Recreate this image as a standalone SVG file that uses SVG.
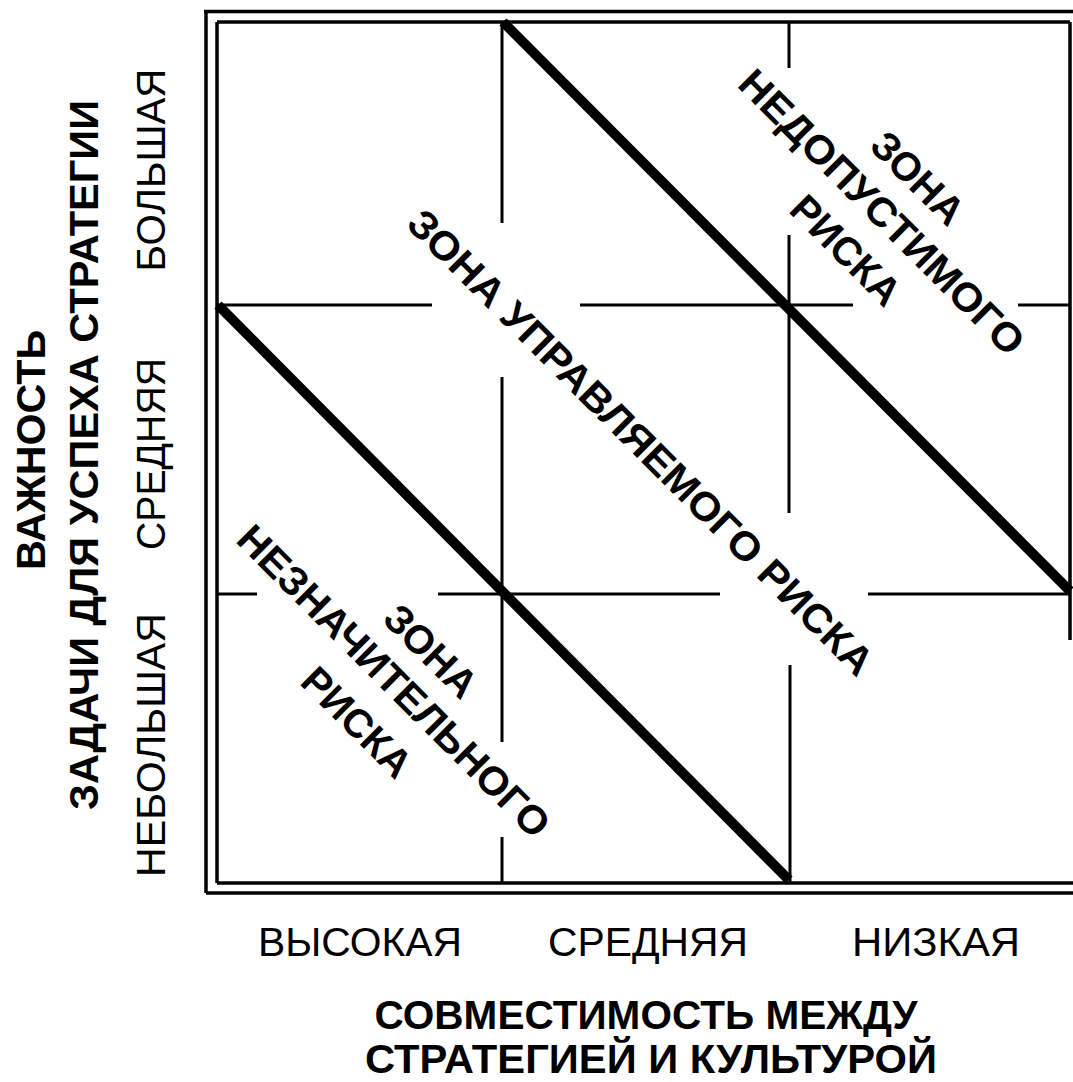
<svg xmlns="http://www.w3.org/2000/svg" width="1073" height="1082" viewBox="0 0 1073 1082">
<style>
.frame{stroke:#000;stroke-width:3.5;fill:none}
.grid{stroke:#000;stroke-width:3;fill:none}
.thick{stroke:#000;stroke-width:10;fill:none}
.lbl{font-family:"Liberation Sans",Arial,sans-serif;font-size:40px;fill:#000;text-anchor:middle}
.b{font-weight:bold}
</style>
<rect width="1073" height="1082" fill="#fff"/>
<g id="frame">
<path class="frame" d="M204,11.5 H1073 M206,11.5 V893 M206,893 H1073"/>
<path class="frame" d="M217,22 H1070 M217,22 V883 M217,883 H1073 M1070,22 V640"/>
</g>
<g id="grid">
<path class="grid" d="M502,22 V223 M502,377 V742 M502,837 V883"/>
<path class="grid" d="M789,22 V68 M789,235 V513 M790,665 V883"/>
<path class="grid" d="M217,305 H432 M580,305 H853 M1018,305 H1070"/>
<path class="grid" d="M217,594 H257 M438,594 H720 M868,594 H1070"/>
</g>
<g id="connectors">
<line class="thick" x1="503" y1="22" x2="1070" y2="591"/>
<line class="thick" x1="218" y1="305" x2="789" y2="880"/>
</g>
<g id="y-axis">
<text class="lbl b" transform="translate(45,450) rotate(-90)" textLength="240" lengthAdjust="spacingAndGlyphs">ВАЖНОСТЬ</text>
<text class="lbl b" transform="translate(98,455) rotate(-90)" textLength="710" lengthAdjust="spacingAndGlyphs">ЗАДАЧИ ДЛЯ УСПЕХА СТРАТЕГИИ</text>
<text class="lbl" transform="translate(165,170) rotate(-90)" textLength="203" lengthAdjust="spacingAndGlyphs">БОЛЬШАЯ</text>
<text class="lbl" transform="translate(165,454) rotate(-90)" textLength="192" lengthAdjust="spacingAndGlyphs">СРЕДНЯЯ</text>
<text class="lbl" transform="translate(165,745) rotate(-90)" textLength="264" lengthAdjust="spacingAndGlyphs">НЕБОЛЬШАЯ</text>
</g>
<g id="x-axis">
<text class="lbl" x="360" y="956" textLength="204" lengthAdjust="spacingAndGlyphs">ВЫСОКАЯ</text>
<text class="lbl" x="648" y="956" textLength="200" lengthAdjust="spacingAndGlyphs">СРЕДНЯЯ</text>
<text class="lbl" x="936" y="956" textLength="168" lengthAdjust="spacingAndGlyphs">НИЗКАЯ</text>
<text class="lbl b" x="646" y="1029" font-size="38" textLength="543" lengthAdjust="spacingAndGlyphs">СОВМЕСТИМОСТЬ МЕЖДУ</text>
<text class="lbl b" x="651" y="1073" font-size="38" textLength="572" lengthAdjust="spacingAndGlyphs">СТРАТЕГИЕЙ И КУЛЬТУРОЙ</text>
</g>
<g id="zone-managed">
<text class="lbl b" transform="translate(641,442) rotate(45)" y="14" textLength="640" lengthAdjust="spacingAndGlyphs">ЗОНА УПРАВЛЯЕМОГО РИСКА</text>
</g>
<g id="zone-unacceptable">
<text class="lbl b" transform="translate(918,178) rotate(45)" y="14">ЗОНА</text>
<text class="lbl b" transform="translate(882,212) rotate(45)" y="14" textLength="385" lengthAdjust="spacingAndGlyphs">НЕДОПУСТИМОГО</text>
<text class="lbl b" transform="translate(846,250) rotate(45)" y="14">РИСКА</text>
</g>
<g id="zone-insignificant">
<text class="lbl b" transform="translate(431,651) rotate(45)" y="14">ЗОНА</text>
<text class="lbl b" transform="translate(394,681) rotate(45)" y="14" textLength="423" lengthAdjust="spacingAndGlyphs">НЕЗНАЧИТЕЛЬНОГО</text>
<text class="lbl b" transform="translate(357,722) rotate(45)" y="14">РИСКА</text>
</g>
</svg>
